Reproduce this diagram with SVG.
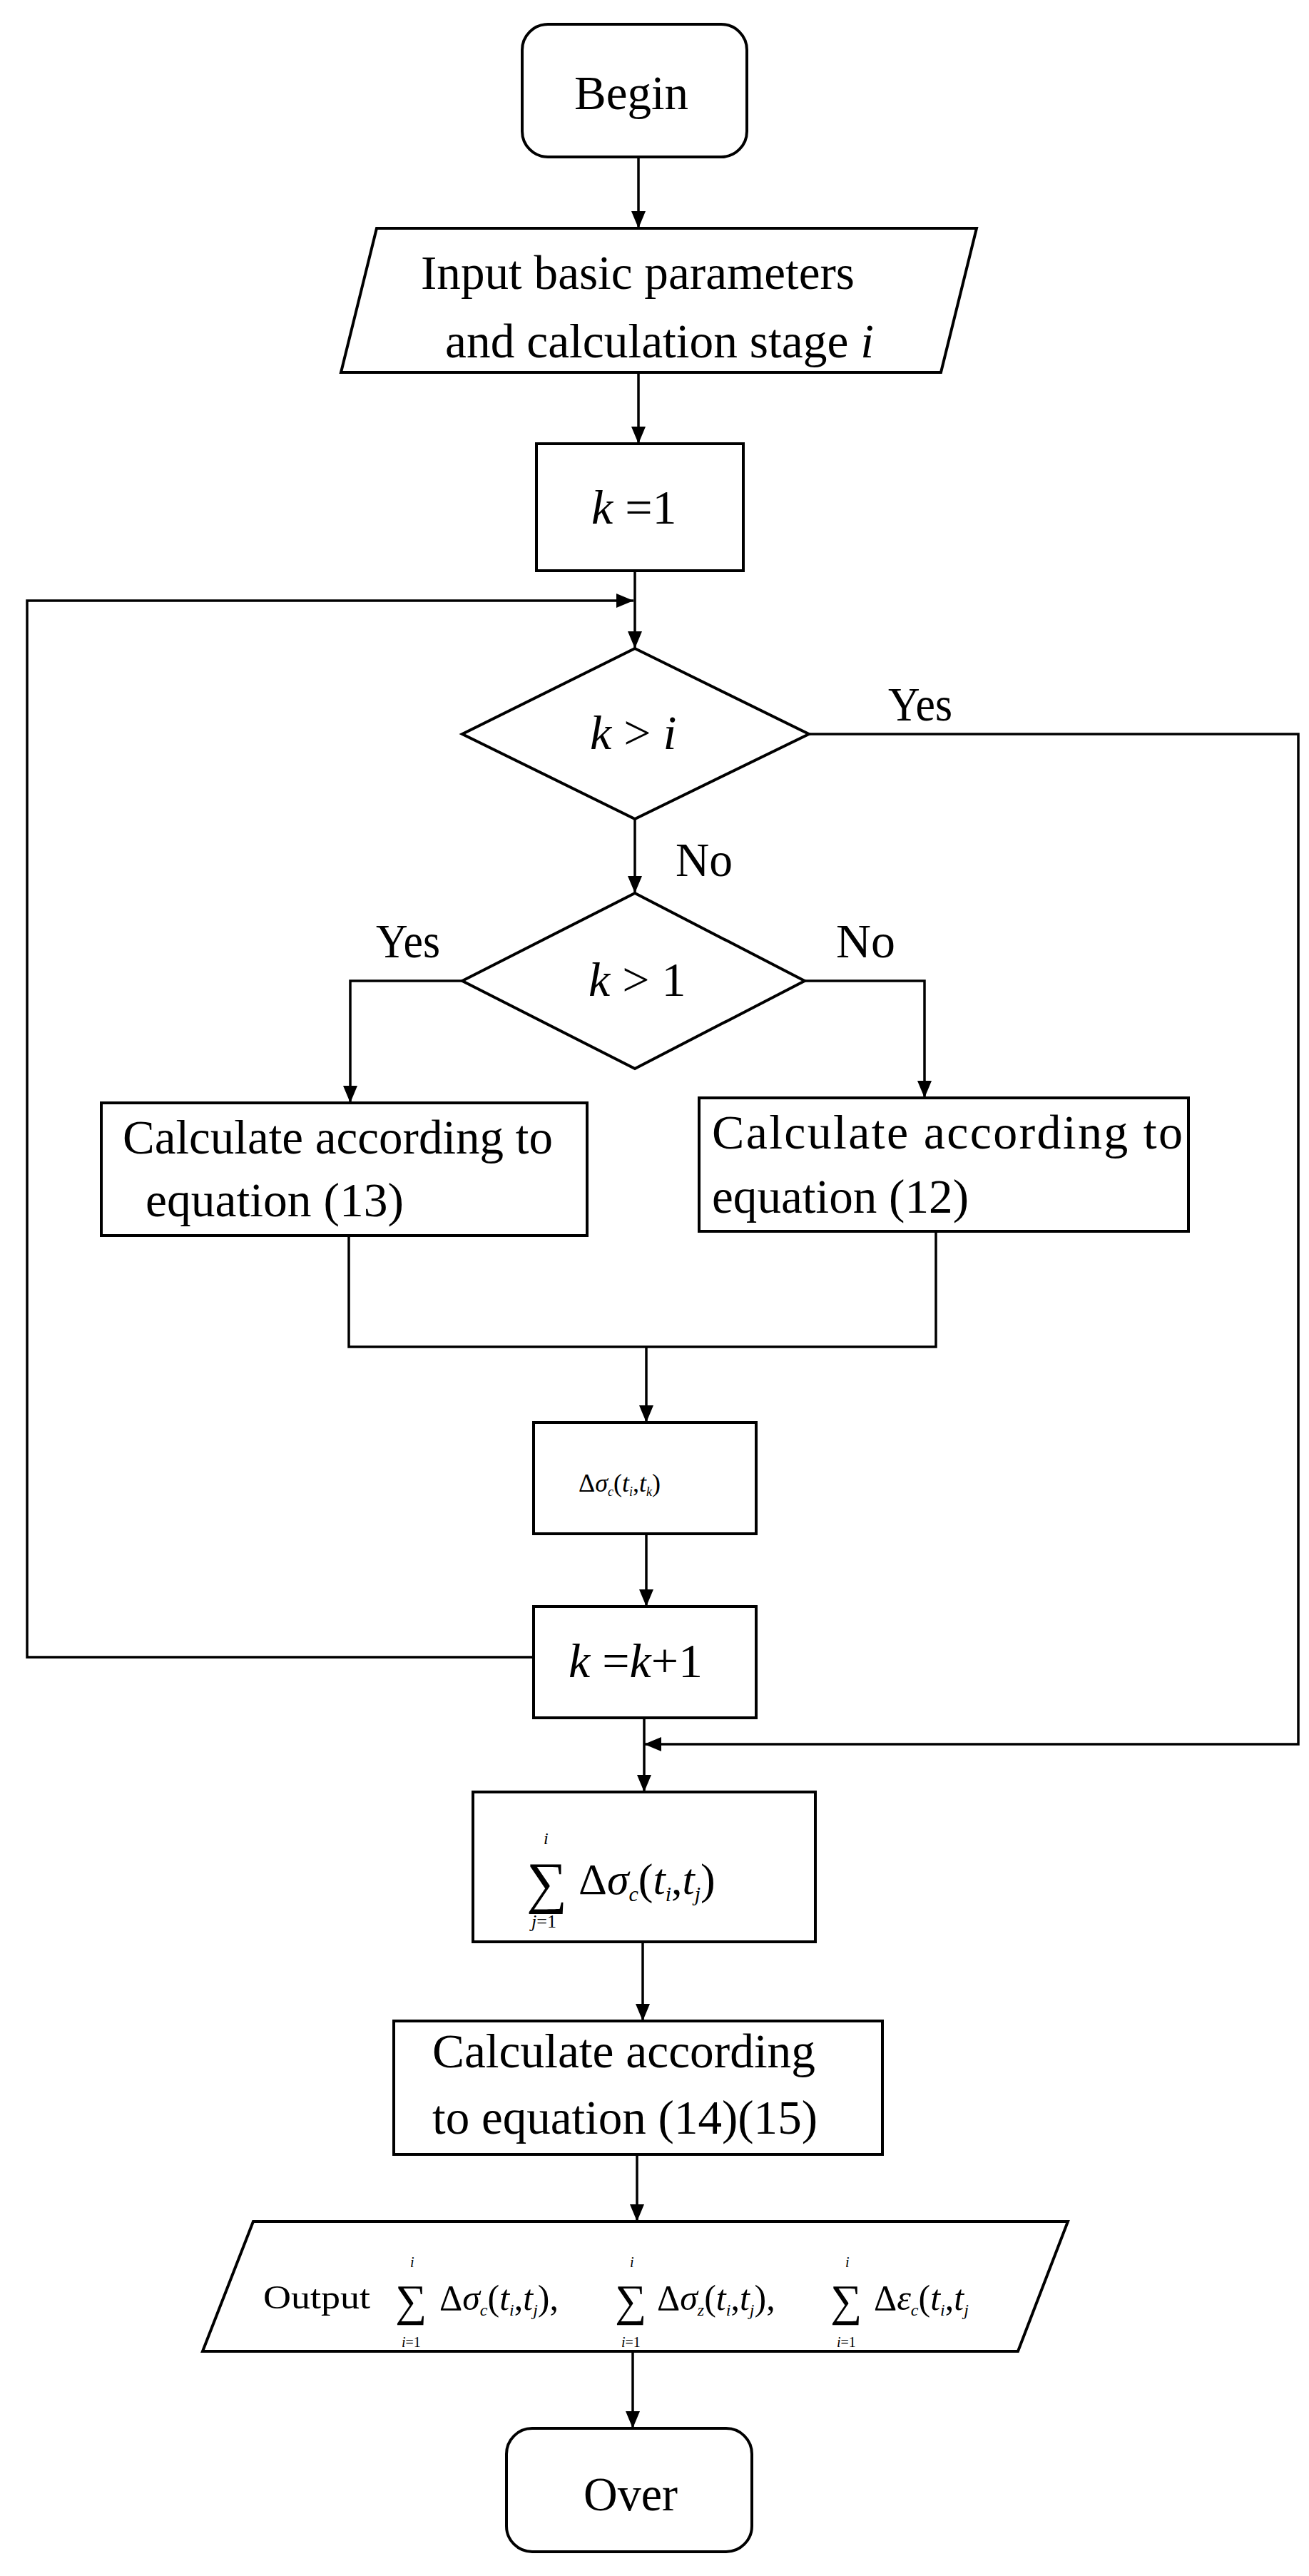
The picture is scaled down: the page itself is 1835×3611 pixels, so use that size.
<svg xmlns="http://www.w3.org/2000/svg" width="1835" height="3611" viewBox="0 0 1835 3611">
<style>
.s{fill:#fff;stroke:#000;stroke-width:4}
.c{fill:none;stroke:#000;stroke-width:3.5}
text{font-family:"Liberation Serif","Times New Roman",serif;fill:#000}
.t{font-size:68px}
.i{font-style:italic}
</style>
<defs>
<marker id="a" markerWidth="10" markerHeight="10" refX="10" refY="5" orient="auto" markerUnits="userSpaceOnUse" viewBox="0 0 10 10" style="overflow:visible"><path d="M0,0 L10,5 L0,10 Z" transform="scale(2.6,1.7) translate(-6,-2)" fill="#000"/></marker>
<marker id="b" viewBox="0 0 24 20" refX="24" refY="10" markerWidth="24" markerHeight="20" orient="auto" markerUnits="userSpaceOnUse"><path d="M0,0 L24,10 L0,20 Z" fill="#000"/></marker>
</defs>
<rect width="1835" height="3611" fill="#fff"/>
<g id="connectors">
<line class="c" x1="895" y1="222" x2="895" y2="320" marker-end="url(#b)"/>
<line class="c" x1="895" y1="524" x2="895" y2="622" marker-end="url(#b)"/>
<line class="c" x1="890" y1="800" x2="890" y2="909" marker-end="url(#b)"/>
<polyline class="c" points="748,2323 38,2323 38,842 888,842" marker-end="url(#b)"/>
<line class="c" x1="890" y1="1148" x2="890" y2="1252" marker-end="url(#b)"/>
<polyline class="c" points="1134,1029 1820,1029 1820,2445 903,2445" marker-end="url(#b)"/>
<polyline class="c" points="648,1375 491,1375 491,1546" marker-end="url(#b)"/>
<polyline class="c" points="1128,1375 1296,1375 1296,1539" marker-end="url(#b)"/>
<polyline class="c" points="489,1732 489,1888 1312,1888 1312,1726"/>
<line class="c" x1="906" y1="1888" x2="906" y2="1994" marker-end="url(#b)"/>
<line class="c" x1="906" y1="2150" x2="906" y2="2252" marker-end="url(#b)"/>
<line class="c" x1="903" y1="2408" x2="903" y2="2512" marker-end="url(#b)"/>
<line class="c" x1="901" y1="2722" x2="901" y2="2833" marker-end="url(#b)"/>
<line class="c" x1="893" y1="3020" x2="893" y2="3114" marker-end="url(#b)"/>
<line class="c" x1="887" y1="3296" x2="887" y2="3404" marker-end="url(#b)"/>
<text class="t" x="1245" y="1010" textLength="90" lengthAdjust="spacingAndGlyphs">Yes</text>
<text class="t" x="947" y="1228" textLength="80" lengthAdjust="spacingAndGlyphs">No</text>
<text class="t" x="527" y="1342" textLength="90" lengthAdjust="spacingAndGlyphs">Yes</text>
<text class="t" x="1172" y="1342" textLength="83" lengthAdjust="spacingAndGlyphs">No</text>
</g>
<g id="begin"><rect class="s" x="732" y="34" width="315" height="186" rx="36"/>
<text class="t" x="805" y="153" textLength="160" lengthAdjust="spacingAndGlyphs">Begin</text></g>
<g id="input"><polygon class="s" points="528,320 1369,320 1319,522 478,522"/>
<text class="t" x="590" y="405" textLength="608" lengthAdjust="spacingAndGlyphs">Input basic parameters</text>
<text class="t" x="624" y="501" textLength="601" lengthAdjust="spacingAndGlyphs">and calculation stage <tspan class="i">i</tspan></text></g>
<g id="k1"><rect class="s" x="752" y="622" width="290" height="178"/>
<text class="t" x="829" y="734"><tspan class="i">k</tspan> =1</text></g>
<g id="d1"><polygon class="s" points="890,909 1134,1029 890,1148 648,1029"/>
<text class="t" x="827" y="1050"><tspan class="i">k</tspan> &gt; <tspan class="i">i</tspan></text></g>
<g id="d2"><polygon class="s" points="890,1252 1128,1375 890,1498 648,1375"/>
<text class="t" x="825" y="1396"><tspan class="i">k</tspan> &gt; 1</text></g>
<g id="eq13"><rect class="s" x="142" y="1546" width="681" height="186"/>
<text class="t" x="172" y="1617" textLength="603" lengthAdjust="spacingAndGlyphs">Calculate according to</text>
<text class="t" x="204" y="1705" textLength="362" lengthAdjust="spacingAndGlyphs">equation (13)</text></g>
<g id="eq12"><rect class="s" x="980" y="1539" width="686" height="187"/>
<text class="t" x="998" y="1610" textLength="660" lengthAdjust="spacing">Calculate according to</text>
<text class="t" x="998" y="1700" textLength="360" lengthAdjust="spacingAndGlyphs">equation (12)</text></g>
<g id="dsig"><rect class="s" x="748" y="1994" width="312" height="156"/>
<text x="811" y="2091" font-size="36">Δ<tspan class="i">σ</tspan><tspan class="i" font-size="18" dy="6">c</tspan><tspan dy="-6">(</tspan><tspan class="i">t</tspan><tspan class="i" font-size="18" dy="6">i</tspan><tspan dy="-6">,</tspan><tspan class="i">t</tspan><tspan class="i" font-size="18" dy="6">k</tspan><tspan dy="-6">)</tspan></text></g>
<g id="kk1"><rect class="s" x="748" y="2252" width="312" height="156"/>
<text class="t" x="797" y="2351"><tspan class="i">k</tspan> =<tspan class="i">k</tspan>+1</text></g>
<g id="sum"><rect class="s" x="663" y="2512" width="480" height="210"/>
<text x="738" y="2666" font-size="80">∑</text>
<text class="i" x="762" y="2585" font-size="24">i</text>
<text class="i" x="745" y="2702" font-size="26">j<tspan font-style="normal">=1</tspan></text>
<text x="811" y="2655" font-size="62">Δ<tspan class="i">σ</tspan><tspan class="i" font-size="30" dy="10">c</tspan><tspan dy="-10">(</tspan><tspan class="i">t</tspan><tspan class="i" font-size="30" dy="10">i</tspan><tspan dy="-10">,</tspan><tspan class="i">t</tspan><tspan class="i" font-size="30" dy="10">j</tspan><tspan dy="-10">)</tspan></text></g>
<g id="eq1415"><rect class="s" x="552" y="2833" width="685" height="187"/>
<text class="t" x="606" y="2898" textLength="537" lengthAdjust="spacingAndGlyphs">Calculate according</text>
<text class="t" x="606" y="2991" textLength="540" lengthAdjust="spacingAndGlyphs">to equation (14)(15)</text></g>
<g id="output"><polygon class="s" points="355,3114 1497,3114 1427,3296 284,3296"/>
<text x="369" y="3236" font-size="46" textLength="150" lengthAdjust="spacingAndGlyphs">Output</text>
<text x="554" y="3246" font-size="62">∑</text><text class="i" x="575" y="3178" font-size="20">i</text><text class="i" x="563" y="3290" font-size="20">i<tspan font-style="normal">=1</tspan></text>
<text x="616" y="3238" font-size="50">Δ<tspan class="i">σ</tspan><tspan class="i" font-size="24" dy="8">c</tspan><tspan dy="-8">(</tspan><tspan class="i">t</tspan><tspan class="i" font-size="24" dy="8">i</tspan><tspan dy="-8">,</tspan><tspan class="i">t</tspan><tspan class="i" font-size="24" dy="8">j</tspan><tspan dy="-8">),</tspan></text>
<text x="862" y="3246" font-size="62">∑</text><text class="i" x="883" y="3178" font-size="20">i</text><text class="i" x="871" y="3290" font-size="20">i<tspan font-style="normal">=1</tspan></text>
<text x="921" y="3238" font-size="50">Δ<tspan class="i">σ</tspan><tspan class="i" font-size="24" dy="8">z</tspan><tspan dy="-8">(</tspan><tspan class="i">t</tspan><tspan class="i" font-size="24" dy="8">i</tspan><tspan dy="-8">,</tspan><tspan class="i">t</tspan><tspan class="i" font-size="24" dy="8">j</tspan><tspan dy="-8">),</tspan></text>
<text x="1164" y="3246" font-size="62">∑</text><text class="i" x="1185" y="3178" font-size="20">i</text><text class="i" x="1173" y="3290" font-size="20">i<tspan font-style="normal">=1</tspan></text>
<text x="1225" y="3238" font-size="50">Δ<tspan class="i">ε</tspan><tspan class="i" font-size="24" dy="8">c</tspan><tspan dy="-8">(</tspan><tspan class="i">t</tspan><tspan class="i" font-size="24" dy="8">i</tspan><tspan dy="-8">,</tspan><tspan class="i">t</tspan><tspan class="i" font-size="24" dy="8">j</tspan></text></g>
<g id="over"><rect class="s" x="710" y="3404" width="344" height="173" rx="36"/>
<text class="t" x="818" y="3519" textLength="132" lengthAdjust="spacingAndGlyphs">Over</text></g>
</svg>
